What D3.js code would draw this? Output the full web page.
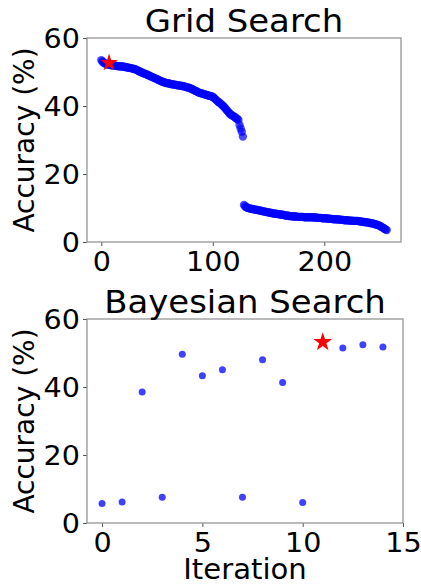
<!DOCTYPE html>
<html>
<head>
<meta charset="utf-8">
<script src="https://cdn.jsdelivr.net/npm/d3@7"></script>
<style>
  body { margin: 0; background: #fff; }
  text { font-family: "DejaVu Sans", sans-serif; fill: #000; }
</style>
</head>
<body>
<script>
    //grid search accuracy, one value per configuration (index 0..256)
    var gridAcc = [
        53.5, 53.1, 52.8, 52.6, 52.4, 52.3, 52.2, 52.2, 52.1, 52.0,
        52.0, 51.9, 51.9, 51.8, 51.8, 51.7, 51.7, 51.7, 51.6, 51.6,
        51.6, 51.5, 51.4, 51.4, 51.3, 51.2, 51.2, 51.1, 51.0, 50.9,
        50.9, 50.7, 50.6, 50.4, 50.2, 50.1, 49.9, 49.8, 49.6, 49.5,
        49.4, 49.2, 49.1, 48.9, 48.8, 48.6, 48.5, 48.3, 48.2, 48.0,
        47.9, 47.7, 47.6, 47.4, 47.3, 47.1, 47.0, 46.9, 46.8, 46.7,
        46.7, 46.6, 46.5, 46.4, 46.4, 46.3, 46.3, 46.2, 46.1, 46.1,
        46.0, 46.0, 45.9, 45.9, 45.8, 45.7, 45.6, 45.5, 45.4, 45.3,
        45.2, 45.0, 44.9, 44.7, 44.5, 44.4, 44.2, 44.0, 43.9, 43.8,
        43.7, 43.6, 43.5, 43.4, 43.3, 43.2, 43.1, 43.0, 42.9, 42.8,
        42.7, 42.4, 42.1, 41.8, 41.5, 41.2, 41.0, 40.7, 40.4, 40.1,
        39.8, 39.4, 39.0, 38.6, 38.2, 37.8, 37.6, 37.3, 37.1, 36.9,
        36.7, 36.4, 36.2, 35.9, 34.4, 33.4, 32.4, 31.0, 10.9, 10.5,
        10.2, 10.1, 10.0, 9.9, 9.8, 9.7, 9.7, 9.6, 9.5, 9.5,
        9.4, 9.3, 9.3, 9.2, 9.1, 9.0, 9.0, 8.9, 8.8, 8.8,
        8.7, 8.6, 8.6, 8.5, 8.4, 8.4, 8.3, 8.3, 8.2, 8.2,
        8.1, 8.1, 8.0, 8.0, 7.9, 7.8, 7.8, 7.7, 7.7, 7.6,
        7.6, 7.6, 7.5, 7.5, 7.5, 7.5, 7.4, 7.4, 7.4, 7.4,
        7.4, 7.4, 7.3, 7.3, 7.3, 7.3, 7.3, 7.3, 7.3, 7.3,
        7.3, 7.2, 7.2, 7.2, 7.1, 7.1, 7.1, 7.1, 7.0, 7.0,
        7.0, 7.0, 6.9, 6.9, 6.9, 6.8, 6.8, 6.8, 6.7, 6.7,
        6.7, 6.7, 6.6, 6.6, 6.6, 6.5, 6.5, 6.5, 6.4, 6.4,
        6.4, 6.4, 6.3, 6.3, 6.3, 6.3, 6.2, 6.2, 6.2, 6.2,
        6.2, 6.1, 6.1, 6.0, 6.0, 5.9, 5.9, 5.8, 5.8, 5.7,
        5.7, 5.6, 5.5, 5.5, 5.4, 5.3, 5.2, 5.1, 5.0, 4.9,
        4.7, 4.5, 4.3, 4.1, 3.9, 3.7, 3.5
    ];
    var gridBest = [7, 52.7]; // red star on grid search

    //bayesian search accuracy per iteration
    var bayesIter = [0, 1, 2, 3, 4, 5, 6, 7, 8, 9, 10, 12, 13, 14];
    var bayesAcc = [5.7, 6.2, 38.5, 7.6, 49.6, 43.3, 45.1, 7.6, 48.0, 41.3, 6.0, 51.5, 52.4, 51.8];
    var bayesBest = [11, 53.2];

    var yTicks = [0, 20, 40, 60];
    var gridXTicks = [0, 100, 200];
    var bayesXTicks = [0, 5, 10, 15];

    var width = 421, height = 586;

    var svg = d3.select("body").append("svg")
        .attr("width", width)
        .attr("height", height);

    //horizontal text, slightly widened like the reference
    function hText(g, x, y, size, sx, anchor, str) {
        return g.append("text")
            .attr("transform", "translate(" + x + "," + y + ") scale(" + sx + ",1)")
            .attr("text-anchor", anchor)
            .attr("font-size", size)
            .text(str);
    }

    //draw one panel, returns its scales
    function panel(box, xDomain, xTicks, title, xLabel) {
        var x = d3.scaleLinear().domain(xDomain).range([box.left, box.right]);
        var y = d3.scaleLinear().domain([0, 60]).range([box.bottom, box.top]);

        var g = svg.append("g");

        //axes
        var xAxis = g.append("g")
            .attr("transform", "translate(0," + box.bottom + ")")
            .call(d3.axisBottom(x).tickValues(xTicks).tickSize(4).tickFormat(d3.format("d")));
        var yAxis = g.append("g")
            .attr("transform", "translate(" + box.left + ",0)")
            .call(d3.axisLeft(y).tickValues(yTicks).tickSize(4));

        [xAxis, yAxis].forEach(function (a) {
            a.select(".domain").remove();
            a.selectAll("line").attr("stroke", "#555");
            a.selectAll("text")
                .attr("font-family", "DejaVu Sans")
                .attr("font-size", 26)
                .attr("fill", "#000");
        });
        xAxis.selectAll("text")
            .attr("y", 0).attr("dy", 0)
            .attr("transform", "translate(0,29) scale(1.1,1)");
        yAxis.selectAll("text")
            .attr("x", 0).attr("dy", 0)
            .attr("transform", "translate(-7,9.5) scale(1.1,1)");

        //frame
        g.append("rect")
            .attr("x", box.left).attr("y", box.top)
            .attr("width", box.right - box.left)
            .attr("height", box.bottom - box.top)
            .attr("fill", "none")
            .attr("stroke", "#8c8c8c")
            .attr("stroke-width", 1.2);

        //title
        hText(g, (box.left + box.right) / 2, box.top - 6, 32, 1.06, "middle", title);

        //y label
        g.append("text")
            .attr("transform", "translate(34," + ((box.top + box.bottom) / 2) + ") rotate(-90)")
            .attr("text-anchor", "middle")
            .attr("font-size", 28)
            .text("Accuracy (%)");

        if (xLabel) {
            hText(g, (box.left + box.right) / 2, box.bottom + 56, 28, 1.04, "middle", xLabel);
        }

        return { x: x, y: y, g: g };
    }

    //grid search panel
    var gridP = panel({ left: 87, right: 401, top: 38, bottom: 242 },
        [-12.8, 268.8], gridXTicks, "Grid Search", null);

    gridP.g.append("g").selectAll("circle")
        .data(gridAcc)
        .enter()
        .append("circle")
        .attr("cx", function (d, i) { return gridP.x(i); })
        .attr("cy", function (d) { return gridP.y(d); })
        .attr("r", 4.2)
        .attr("fill", "blue")
        .attr("fill-opacity", 0.7);

    gridP.g.append("path")
        .attr("d", d3.symbol(d3.symbolStar, 95)())
        .attr("transform", "translate(" + gridP.x(gridBest[0]) + "," + gridP.y(gridBest[1]) + ")")
        .attr("fill", "red");

    //bayesian search panel
    var bayesP = panel({ left: 87, right: 403, top: 319, bottom: 523 },
        [-0.75, 15], bayesXTicks, "Bayesian Search", "Iteration");

    bayesP.g.append("g").selectAll("circle")
        .data(bayesAcc)
        .enter()
        .append("circle")
        .attr("cx", function (d, i) { return bayesP.x(bayesIter[i]); })
        .attr("cy", function (d) { return bayesP.y(d); })
        .attr("r", 3.5)
        .attr("fill", "blue")
        .attr("fill-opacity", 0.75);

    bayesP.g.append("path")
        .attr("d", d3.symbol(d3.symbolStar, 110)())
        .attr("transform", "translate(" + bayesP.x(bayesBest[0]) + "," + bayesP.y(bayesBest[1]) + ")")
        .attr("fill", "red");
</script>
</body>
</html>
